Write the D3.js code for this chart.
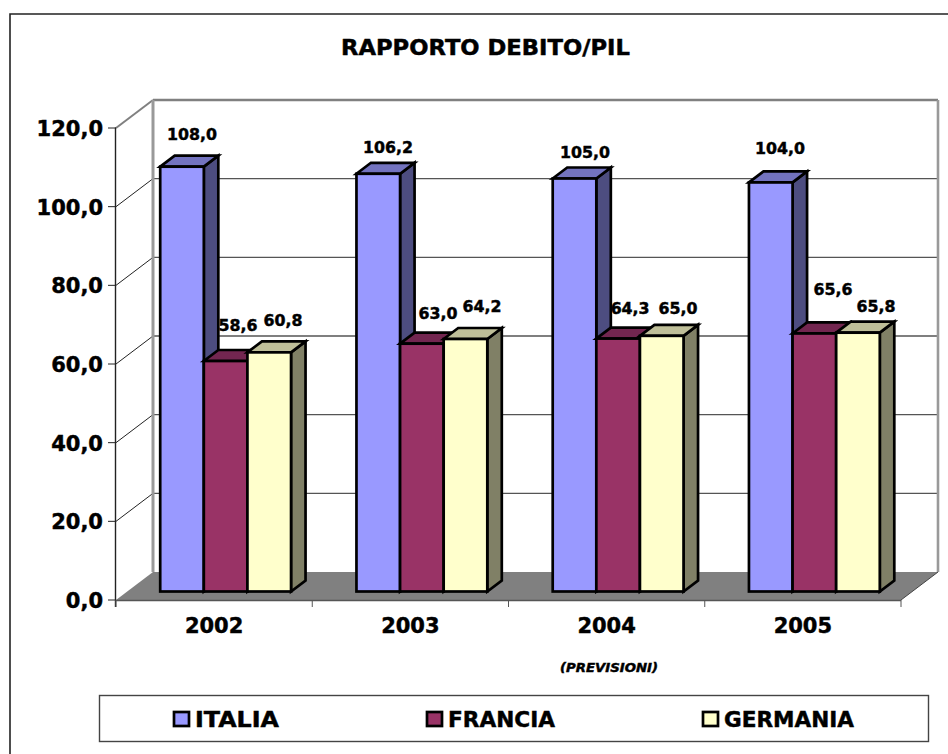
<!DOCTYPE html>
<html><head><meta charset="utf-8"><script src="https://cdn.jsdelivr.net/npm/d3@7"></script>
<style>html,body{margin:0;padding:0;background:#fff}svg{display:block}text{font-family:"DejaVu Sans",Verdana,sans-serif;font-weight:bold;fill:#000;stroke:#000;stroke-width:.45}</style></head>
<body><svg id="c" width="948" height="754"></svg>
<script>
const years=["2002","2003","2004","2005"];
const seriesNames=["ITALIA","FRANCIA","GERMANIA"];
const italia=[108.0,106.2,105.0,104.0];
const francia=[58.6,63.0,64.3,65.6];
const germania=[60.8,64.2,65.0,65.8];
const yTicks=[0,20,40,60,80,100,120];
const fills=["#9999ff","#993366","#ffffcc"];
const tops=["#7373bf","#732650","#bfbf99"];
const sides=["#4d4d80","#4d1a33","#808066"];
const values=[italia,francia,germania];
// hand-placed label offsets, relative to bar centre / bar top
const nudgeX=[[10,9.7,10.5,9.2],[12.4,16.2,12,18.7],[13.8,16.6,16.3,18.1]];
const nudgeY=[[-26.7,-20.8,-20.5,-28.5],[-30,-24.7,-24.6,-38.5],[-26.4,-27,-22,-20.7]];
const legendX=[174,427,703], legendW=[84,107,130];
const fmt=v=>v.toFixed(1).replace(".",",");

const svg=d3.select("#c");
// chart area frame: only top and left edges are inside the picture
svg.append("path").attr("d","M948,14 H10 V754").attr("fill","none").attr("stroke","#222").attr("stroke-width",1.6);
svg.append("text").attr("x",341).attr("y",55).attr("font-size",20.5).attr("textLength",289).attr("lengthAdjust","spacingAndGlyphs").text("RAPPORTO DEBITO/PIL");

const x=d3.scaleBand().domain(years).range([116,901]);
const y=d3.scaleLinear().domain([0,120]).range([600,128]);
const DX=37,DY=-28;
const BX=11.5,BY=-8.5;
const dx=14.5,dy=-11;
const xIn=d3.scaleBand().domain(d3.range(3)).range([0,x.bandwidth()]).paddingOuter(0.75).paddingInner(0);

const poly=(pts,fill,stroke,sw)=>svg.append("polygon").attr("points",pts.map(p=>p.join(",")).join(" ")).attr("fill",fill).attr("stroke",stroke||"none").attr("stroke-width",sw||0).attr("stroke-linejoin","miter");
const line=(a,b,c,w)=>svg.append("line").attr("x1",a[0]).attr("y1",a[1]).attr("x2",b[0]).attr("y2",b[1]).attr("stroke",c).attr("stroke-width",w);

poly([[116,600],[901,600],[901+DX,600+DY],[116+DX,600+DY]],"#808080");
yTicks.slice(1,-1).forEach(t=>{
  line([116,y(t)],[116+DX,y(t)+DY],"#222",1);
  line([116+DX,y(t)+DY],[901+DX,y(t)+DY],"#555",1.3);
});
line([116,y(120)],[116+DX,y(120)+DY],"#808080",2);
line([116+DX,y(120)+DY],[901+DX,y(120)+DY],"#808080",2.4);
line([116+DX,y(120)+DY],[116+DX,y(0)+DY],"#999",3);
line([901+DX,y(120)+DY],[901+DX,y(0)+DY],"#999",2.6);
line([115.5,y(120)-.5],[115.5,607],"#222",1.4);
yTicks.forEach(t=>line([108,y(t)],[116,y(t)],"#222",1));
line([116,600.5],[901,600.5],"#555",1.5);
line([901,600],[901+DX,600+DY],"#444",1);
years.concat(["end"]).forEach((d,i)=>{const px=116+i*x.step();line([px,600],[px,607],"#555",1);});

svg.selectAll(".yl").data(yTicks).join("text").attr("x",103).attr("y",t=>y(t)+8).attr("text-anchor","end").attr("font-size",21).text(t=>fmt(t));
svg.selectAll(".xl").data(years).join("text").attr("x",d=>x(d)+x.bandwidth()/2).attr("y",633).attr("text-anchor","middle").attr("font-size",21).text(d=>d);

const base=y(0)+BY;
const h=v=>y(0)-y(v);
// labels go under the bars, as in the reference
years.forEach((yr,i)=>{
  [0,1,2].forEach(s=>{
    const v=values[s][i], c=x(yr)+BX+xIn(s)+xIn.bandwidth()/2, t=base-h(v);
    svg.append("text").attr("x",c+nudgeX[s][i]).attr("y",t+nudgeY[s][i]).attr("text-anchor","middle").attr("font-size",15.8).text(fmt(v));
  });
});
years.forEach((yr,i)=>{
  [0,1,2].forEach(s=>{
    const v=values[s][i], l=x(yr)+BX+xIn(s), w=xIn.bandwidth(), r=l+w, t=base-h(v);
    poly([[r,t],[r+dx,t+dy],[r+dx,base+dy],[r,base]],sides[s],"#000",2.7);
    poly([[l,t],[l+dx,t+dy],[r+dx,t+dy],[r,t]],tops[s],"#000",2.7);
    svg.append("rect").attr("x",l).attr("y",t).attr("width",w).attr("height",base-t).attr("fill",fills[s]).attr("stroke","#000").attr("stroke-width",2.7);
  });
});
svg.append("text").attr("x",560).attr("y",672).attr("font-size",12).attr("font-style","italic").attr("textLength",98).attr("lengthAdjust","spacingAndGlyphs").text("(PREVISIONI)");

svg.append("rect").attr("x",99.5).attr("y",695.5).attr("width",829).attr("height",46).attr("fill","#fff").attr("stroke","#444").attr("stroke-width",1.4);
seriesNames.forEach((n,i)=>{
  svg.append("rect").attr("x",legendX[i]).attr("y",712).attr("width",15).attr("height",14).attr("fill",fills[i]).attr("stroke","#000").attr("stroke-width",2.7);
  svg.append("text").attr("x",legendX[i]+21).attr("y",727).attr("font-size",21).attr("textLength",legendW[i]).attr("lengthAdjust","spacingAndGlyphs").text(n);
});
</script></body></html>
